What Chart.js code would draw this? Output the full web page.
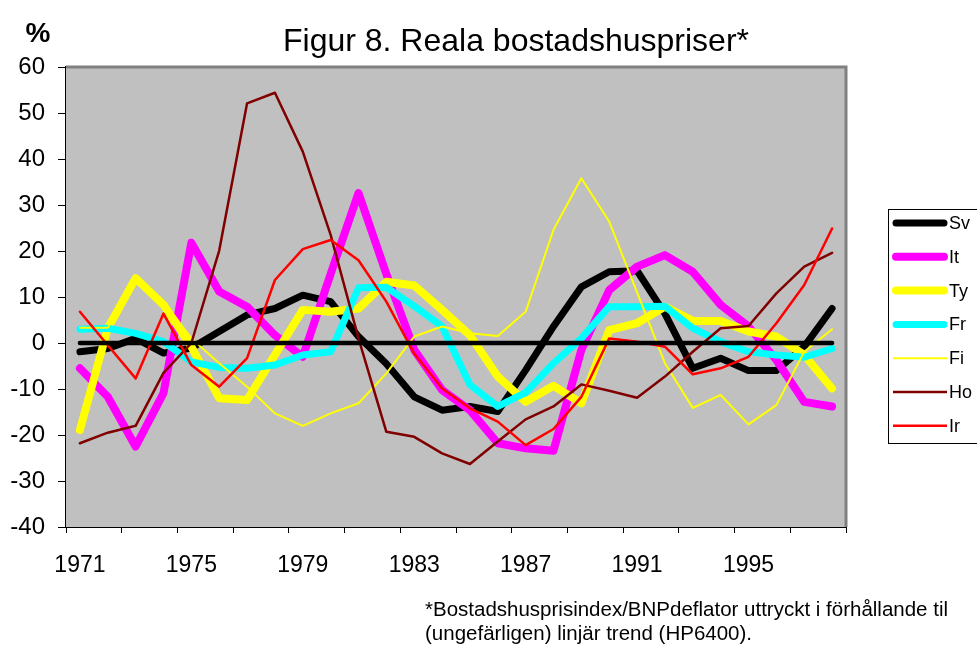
<!DOCTYPE html>
<html>
<head>
<meta charset="utf-8">
<script src="https://cdn.jsdelivr.net/npm/chart.js@4.4.1/dist/chart.umd.min.js"></script>
<style>
  html, body { margin: 0; padding: 0; background: #fff; }
  #wrap { width: 977px; height: 646px; position: relative; }
</style>
</head>
<body>
<div id="wrap"><canvas id="grafico" width="977" height="646"></canvas></div>
<script>
// Años (1971-1998)
const anios = ['1971','1972','1973','1974','1975','1976','1977','1978','1979','1980',
  '1981','1982','1983','1984','1985','1986','1987','1988','1989','1990',
  '1991','1992','1993','1994','1995','1996','1997','1998'];

// Series (%)
const sv = [-1.9, -1.2, 1.0, -2.2, -1.1, 2.5, 6.1, 7.5, 10.4, 9.0, 1.4, -4.5, -11.7, -14.6,
  -13.8, -14.9, -5.9, 3.6, 12.2, 15.5, 15.7, 6.4, -5.5, -3.3, -6.0, -6.0, -0.8, 7.5];
const it = [-5.5, -11.7, -22.5, -10.9, 21.8, 11.2, 7.9, 1.7, -3.0, 15.0, 32.6, 15.0, -1.5, -10.2,
  -14.6, -21.8, -22.9, -23.4, -1.5, 11.5, 16.6, 19.1, 15.5, 8.3, 3.6, -3.7, -12.8, -13.8];
const ty = [-18.9, 3.2, 14.1, 8.3, -0.8, -12.0, -12.4, -2.6, 7.2, 6.8, 7.5, 13.3, 12.5, 7.2,
  1.7, -7.3, -12.8, -9.3, -13.1, 2.8, 4.3, 7.9, 4.8, 4.8, 2.5, 1.4, -2.6, -9.9];
const fr = [3.0, 3.2, 2.1, 0.3, -4.1, -5.3, -5.5, -4.8, -2.6, -1.9, 12.0, 12.1, 8.0, 3.6,
  -9.1, -13.8, -10.8, -4.4, 1.0, 7.9, 7.9, 8.0, 3.2, 0.3, -1.9, -2.6, -3.1, -1.2];
const fi = [3.3, 3.3, 13.0, 9.1, 1.0, -4.4, -9.5, -15.3, -18.0, -15.3, -13.1, -6.6, 1.4, 3.6,
  2.1, 1.5, 6.8, 24.6, 35.8, 26.4, 11.0, -4.4, -14.1, -11.3, -17.7, -13.5, -1.9, 3.0];
const ho = [-21.8, -19.5, -18.0, -6.5, 0.0, 20.1, 52.1, 54.4, 41.6, 23.5, 1.0, -19.3, -20.4, -24.0,
  -26.3, -21.4, -16.6, -13.8, -9.0, -10.4, -11.9, -7.3, -1.9, 3.2, 3.7, 10.8, 16.6, 19.6];
const ir = [6.8, -0.5, -7.7, 6.4, -4.8, -9.5, -3.3, 13.7, 20.4, 22.4, 18.0, 9.0, -2.3, -9.9,
  -14.2, -17.1, -22.2, -18.7, -11.7, 1.0, 0.3, -0.8, -6.8, -5.5, -3.0, 4.3, 12.6, 24.9];
const trend = anios.map(() => 0);

const yTicks = [60, 50, 40, 30, 20, 10, 0, -10, -20, -30, -40];

const FUENTE = '"Liberation Sans", Arial, sans-serif';

function serie(label, data, color, width, order) {
  return {
    label: label, data: data, borderColor: color, backgroundColor: color,
    borderWidth: width, pointRadius: 0, tension: 0, order: order,
    borderJoinStyle: 'round', borderCapStyle: 'round', fill: false
  };
}

// Fondo gris, borde, título, leyenda y nota
const decoracion = {
  id: 'decoracion',
  beforeDatasetsDraw(chart) {
    const a = chart.chartArea;
    const ctx = chart.ctx;
    ctx.save();
    ctx.fillStyle = '#C0C0C0';
    ctx.fillRect(a.left, a.top, a.right - a.left, a.bottom - a.top);
    ctx.restore();
  },
  beforeDraw(chart) {
    const ctx = chart.ctx;
    ctx.save();
    ctx.fillStyle = '#fff';
    ctx.fillRect(0, 0, chart.width, chart.height);
    ctx.restore();
  },
  afterDraw(chart) {
    const a = chart.chartArea;
    const ctx = chart.ctx;
    ctx.save();
    // borde superior y derecho
    ctx.strokeStyle = '#808080';
    ctx.lineWidth = 3;
    ctx.beginPath();
    ctx.moveTo(a.left, a.top);
    ctx.lineTo(a.right, a.top);
    ctx.lineTo(a.right, a.bottom);
    ctx.stroke();

    // título
    ctx.fillStyle = '#000';
    ctx.textBaseline = 'alphabetic';
    ctx.textAlign = 'center';
    ctx.font = '32px ' + FUENTE;
    ctx.fillText('Figur 8. Reala bostadshuspriser*', 516, 51);
    ctx.font = 'bold 28px ' + FUENTE;
    ctx.fillText('%', 38, 42);

    // nota
    ctx.textAlign = 'left';
    ctx.font = '20.5px ' + FUENTE;
    ctx.fillText('*Bostadshusprisindex/BNPdeflator uttryckt i förhållande til', 425, 616);
    ctx.fillText('(ungefärligen) linjär trend (HP6400).', 425, 640);

    // leyenda
    ctx.fillStyle = '#fff';
    ctx.fillRect(888, 209, 100, 234);
    ctx.strokeStyle = '#000';
    ctx.lineWidth = 1;
    ctx.strokeRect(888.5, 209.5, 100, 234);
    const items = chart.data.datasets.filter(d => d.label);
    items.forEach((d, i) => {
      const y = 223 + i * 33.8;
      ctx.strokeStyle = d.borderColor;
      ctx.lineWidth = d.borderWidth;
      ctx.lineCap = d.borderWidth > 4 ? 'round' : 'butt';
      ctx.beginPath();
      ctx.moveTo(d.borderWidth > 4 ? 896 : 893, y);
      ctx.lineTo(d.borderWidth > 4 ? 944 : 947, y);
      ctx.stroke();
      ctx.fillStyle = '#000';
      ctx.font = '18px ' + FUENTE;
      ctx.textBaseline = 'middle';
      ctx.fillText(d.label, 949, y + 1);
    });
    ctx.restore();
  }
};

const ctx = document.getElementById('grafico').getContext('2d');
new Chart(ctx, {
  type: 'line',
  data: {
    labels: anios,
    datasets: [
      serie('Sv', sv, '#000000', 7, 8),
      serie('It', it, '#FF00FF', 8, 7),
      serie('Ty', ty, '#FFFF00', 8, 6),
      serie('Fr', fr, '#00FFFF', 7, 5),
      serie('Fi', fi, '#FFFF00', 2, 4),
      serie('Ho', ho, '#800000', 2.5, 3),
      serie('Ir', ir, '#FF0000', 2.5, 2),
      serie('', trend, '#000000', 4.5, 1)
    ]
  },
  options: {
    responsive: false,
    animation: false,
    layout: { padding: { top: 67, right: 131, left: 0, bottom: 0 } },
    plugins: {
      legend: { display: false },
      title: { display: false },
      tooltip: { enabled: false }
    },
    scales: {
      x: {
        type: 'category',
        offset: true,
        afterFit(s) { s.height = 119; },
        grid: {
          offset: true,
          drawOnChartArea: false,
          tickLength: 6,
          color: (c) => (c.index === undefined || c.index % 2 === 0) ? '#000' : 'rgba(0,0,0,0)'
        },
        border: { color: '#000', width: 2 },
        ticks: {
          autoSkip: false,
          maxRotation: 0,
          padding: 19,
          color: '#000',
          font: { family: FUENTE, size: 23 },
          callback: function (v, i) { return i % 4 === 0 ? this.getLabelForValue(v) : ''; }
        }
      },
      y: {
        min: -40,
        max: 60,
        afterFit(s) { s.width = 66; },
        afterBuildTicks(s) { s.ticks = yTicks.map(v => ({ value: v })); },
        grid: { color: '#000', lineWidth: 1, tickLength: 8 },
        border: { color: '#000', width: 2 },
        ticks: {
          padding: 13,
          color: '#000',
          font: { family: FUENTE, size: 24 }
        }
      }
    }
  },
  plugins: [decoracion]
});
</script>
</body>
</html>
